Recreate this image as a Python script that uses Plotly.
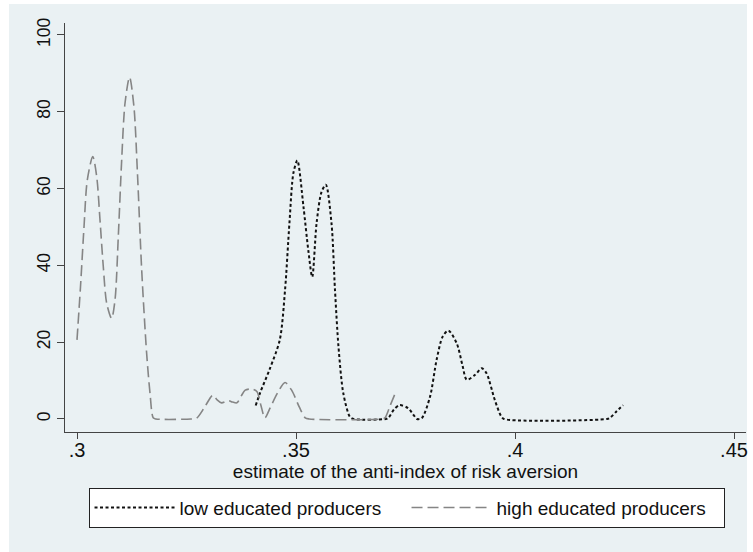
import plotly.graph_objects as go

# high educated producers (gray long-dash)
high_x = [0.3000, 0.3008, 0.3016, 0.30235, 0.3036, 0.3045, 0.30525, 0.3060, 0.30678, 0.3079,
          0.30868, 0.30943, 0.3102, 0.31096, 0.3120, 0.3130, 0.31377, 0.31477, 0.3159, 0.31667,
          0.3174, 0.3180, 0.3260, 0.3273, 0.3292, 0.3310, 0.3320, 0.3330, 0.3345, 0.3355, 0.3365,
          0.3375, 0.3384, 0.3399, 0.3411, 0.3420, 0.3429, 0.3441, 0.3458, 0.3475, 0.3490, 0.3508,
          0.3521, 0.3530, 0.3695, 0.3703, 0.3715, 0.3728]
high_y = [20.6, 34.5, 50.0, 62.2, 68.3, 63.1, 51.8, 39.7, 30.1, 26.2,
          31.0, 47.5, 67.4, 82.2, 89.0, 81.3, 64.8, 38.8, 17.1, 6.7,
          0.3, 0.0, 0.0, 0.2, 3.2, 6.2, 5.0, 4.2, 4.8, 4.4, 4.2,
          6.0, 7.5, 7.8, 7.1, 3.5, 0.3, 2.9, 6.8, 9.5, 7.5, 3.0,
          0.3, 0.0, 0.0, 0.3, 3.5, 7.1]

# low educated producers (black dotted)
low_x = [0.3408, 0.3418, 0.3440, 0.3463, 0.3475, 0.3485, 0.3494, 0.3503, 0.3517, 0.3528,
         0.3537, 0.3547, 0.3558, 0.3568, 0.3581, 0.3589, 0.3597, 0.3608, 0.3623, 0.3632,
         0.3705, 0.3711, 0.3724, 0.3737, 0.3756, 0.3770, 0.3776, 0.3787, 0.3806, 0.3821,
         0.3835, 0.3848, 0.3867, 0.3880, 0.3890, 0.3909, 0.3924, 0.3935, 0.3954, 0.3968,
         0.3975, 0.4210, 0.4217, 0.4232, 0.4247]
low_y = [3.5, 6.8, 13.0, 20.6, 33.6, 51.0, 64.0, 67.3, 55.3, 44.0,
         37.0, 51.0, 59.0, 61.0, 51.0, 33.6, 18.8, 6.7, 0.6, 0.0,
         0.0, 0.3, 2.5, 3.6, 2.8, 0.8, 0.0, 0.2, 5.8, 15.4,
         21.5, 23.0, 19.7, 14.0, 10.2, 11.5, 13.2, 11.9, 4.9, 0.8,
         0.0, 0.0, 0.3, 2.0, 3.6]

x_tickvals = [0.30, 0.35, 0.40, 0.45]
x_ticktext = [".3", ".35", ".4", ".45"]
y_tickvals = [0, 20, 40, 60, 80, 100]

BG = "#eaf1f3"
FONT = "Liberation Sans, Arial, sans-serif"

fig = go.Figure()
fig.add_trace(go.Scatter(
    x=low_x, y=low_y, mode="lines", name="low educated producers",
    line=dict(color="#111111", width=2, dash="3px,2.5px", shape="spline", smoothing=0.8)))
fig.add_trace(go.Scatter(
    x=high_x, y=high_y, mode="lines", name="high educated producers",
    line=dict(color="#858585", width=1.6, dash="11px,5px", shape="spline", smoothing=0.8)))

fig.update_layout(
    width=753, height=552,
    margin=dict(l=65, r=7, t=23, b=120, autoexpand=False),
    paper_bgcolor="white", plot_bgcolor="white",
    font=dict(family=FONT, size=18, color="#111111"),
    showlegend=True,
    legend=dict(orientation="h", x=0.5015, xanchor="center", y=-0.136, yanchor="top",
                bgcolor="white", bordercolor="#222222", borderwidth=1,
                font=dict(size=19), itemwidth=80, entrywidth=222, entrywidthmode="pixels",
                traceorder="normal"),
    shapes=[dict(type="rect", xref="paper", yref="paper", x0=-0.0822, x1=1.0015,
                 y0=-0.30, y1=1.0465, fillcolor=BG, line=dict(width=0), layer="below")],
)
fig.update_xaxes(range=[0.29726, 0.45274], tickvals=x_tickvals, ticktext=x_ticktext,
                 tickfont=dict(size=20), ticklabelstandoff=-6,
                 showgrid=False, zeroline=False, showline=True, linecolor="#444444", linewidth=1,
                 ticks="outside", ticklen=6, tickcolor="#444444",
                 title=dict(text="estimate of the anti-index of risk aversion", standoff=0,
                            font=dict(size=19)))
fig.update_yaxes(range=[-3.39, 103.1], tickvals=y_tickvals, tickangle=-90,
                 tickfont=dict(size=17.5),
                 showgrid=True, gridcolor=BG, gridwidth=1.5, zeroline=False,
                 showline=True, linecolor="#444444", linewidth=1,
                 ticks="outside", ticklen=7, tickcolor="#444444")

fig.write_html("out.html", config={"displayModeBar": False},
               post_script="document.body.style.margin='0';")
